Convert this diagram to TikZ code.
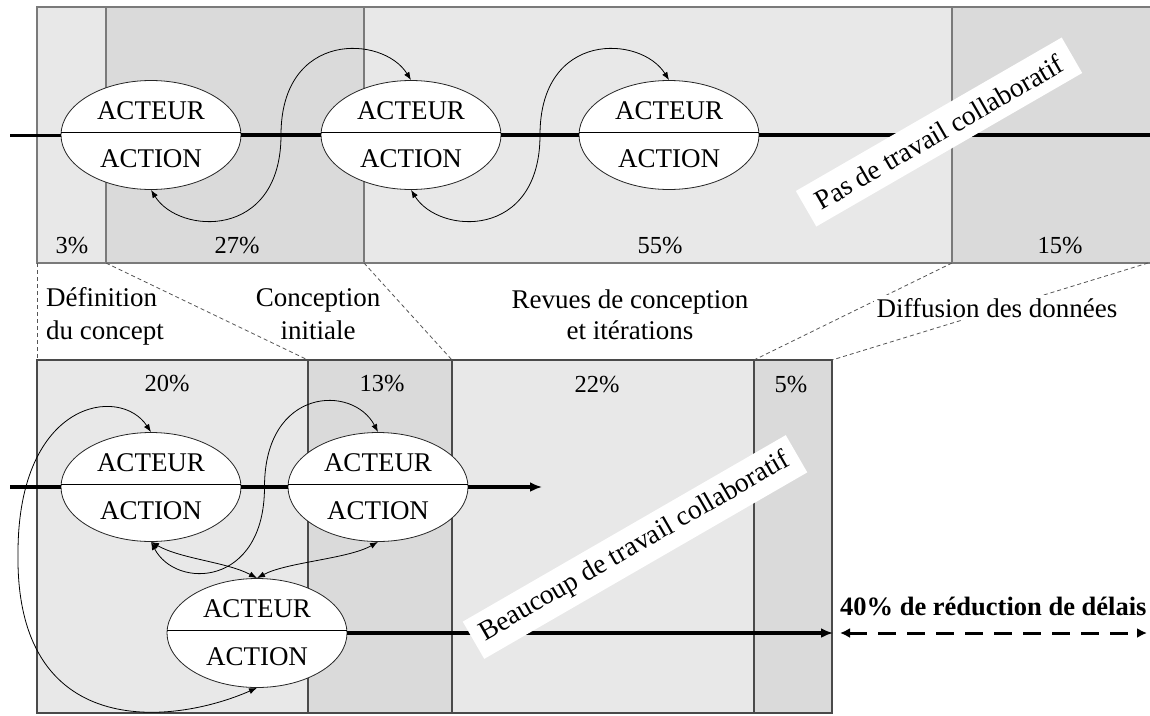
\documentclass[tikz,border=0pt]{standalone}
\usepackage{fontspec}
\setmainfont{Liberation Serif}
\usetikzlibrary{shapes.geometric,arrows.meta,calc}
\definecolor{paleband}{HTML}{E8E8E8}
\definecolor{darkband}{HTML}{DADADA}
\definecolor{toprule}{HTML}{7A7A7A}
\definecolor{botrule}{HTML}{4A4A4A}
\definecolor{guide}{HTML}{555555}

\begin{document}
\begin{tikzpicture}[x=1pt,y=-1pt,
  act/.style={ellipse, draw=black!85, line width=0.8pt, fill=white,
    minimum width=180pt, minimum height=109pt, inner sep=0pt},
  word/.style={font=\fontsize{27}{30}\selectfont, inner sep=0pt, anchor=base},
  pct/.style={font=\fontsize{24.5}{28}\selectfont, inner sep=0pt, anchor=base},
  phase/.style={font=\fontsize{27}{33}\selectfont, inner sep=0pt},
  flow/.style={line width=3.5pt, black},
  flowtip/.style={-{Latex[length=12pt,width=10pt]}},
  loop/.style={line width=0.8pt, black,
    {Latex[length=8pt,width=6pt]}-{Latex[length=8pt,width=6pt]}},
  guideline/.style={guide, line width=0.8pt, dash pattern=on 4pt off 3pt},
  tag/.style={fill=white, rotate=30, font=\fontsize{27.5}{30}\selectfont, inner sep=0pt},
]
\useasboundingbox (0,0) rectangle (1150,715);
\fill[white] (0,0) rectangle (1150,715);
\clip (0,0) rectangle (1150,715);

% ---- upper timeline: phases without collaboration
\fill[paleband] (37,7) rectangle (106,263);
\fill[darkband] (106,7) rectangle (364,263);
\fill[paleband] (364,7) rectangle (952,263);
\fill[darkband] (952,7) rectangle (1160,263);
\draw[toprule, line width=1.4pt] (37,7) rectangle (1160,263);
\foreach \x in {106,364,952} \draw[toprule, line width=1.4pt] (\x,7) -- (\x,263);

% ---- lower timeline: phases with collaboration
\fill[paleband] (37,360) rectangle (308,713);
\fill[darkband] (308,360) rectangle (452,713);
\fill[paleband] (452,360) rectangle (754,713);
\fill[darkband] (754,360) rectangle (832,713);
\draw[botrule, line width=1.2pt] (37,360) rectangle (832,713);
\foreach \x in {308,452,754} \draw[botrule, line width=1.2pt] (\x,360) -- (\x,713);

% ---- guides joining the phase limits of both timelines
\coordinate (t0) at (37,263);   \coordinate (b0) at (37,360);
\coordinate (t1) at (106,263);  \coordinate (b1) at (308,360);
\coordinate (t2) at (364,263);  \coordinate (b2) at (452,360);
\coordinate (t3) at (952,263);  \coordinate (b3) at (754,360);
\coordinate (t4) at (1148,263); \coordinate (b4) at (832,360);
\draw[guideline] (t0) -- (b0);
\draw[guideline] (t1) -- (b1);
\draw[guideline] (t2) -- (b2);
\draw[guideline] (t3) -- (b3);
\draw[guideline] (t4) -- (b4);

% ---- phase names
\node[phase, anchor=base west] (p1a) at (46,306.5) {Définition};
\node[phase, anchor=base west] (p1b) at (46,339.5) {du concept};
\node[phase, anchor=base] (p2a) at (318,306.5) {Conception};
\node[phase, anchor=base] (p2b) at (318,339.5) {initiale};
\node[phase, anchor=base] (p3a) at (630,308.5) {Revues de conception};
\node[phase, anchor=base] (p3b) at (630,339.5) {et itérations};
\node[phase, anchor=base, fill=white, inner sep=3pt] (p4) at (997,317) {Diffusion des données};

% ---- shares of time
\node[pct] (u1) at (72,253) {3\%};
\node[pct] (u2) at (237,253) {27\%};
\node[pct] (u3) at (660,253) {55\%};
\node[pct] (u4) at (1060,253) {15\%};
\node[pct] (l1) at (167,391) {20\%};
\node[pct] (l2) at (382,391) {13\%};
\node[pct] (l3) at (597,392) {22\%};
\node[pct] (l4) at (791,392) {5\%};

% ---- actor / action ellipses
\foreach \n/\cx/\cy in {e1/151/135, e2/411/135, e3/669/135,
                        e4/151/487, e5/378/487, e6/257/633} {
  \node[act] (\n) at (\cx,\cy) {};
  \draw[black, line width=1pt] ($(\n.west)+(0,-3)$) -- ($(\n.east)+(0,-3)$);
  \node[word] (\n a) at ($(\n.center)+(0,-16)$) {ACTEUR};
  \node[word] (\n b) at ($(\n.center)+(0,32)$) {ACTION};
}

% ---- sequential flow, upper timeline
\coordinate (s0) at (10,135);
\coordinate (s9) at (1160,135);
\draw[line width=3pt] (s0) -- (e1.west);
\draw[flow] (e1.east) -- (e2.west);
\draw[flow] (e2.east) -- (e3.west);
\draw[flow] (e3.east) -- (s9);

% ---- flow, lower timeline
\coordinate (r0) at (10,487);
\coordinate (r5) at (542,487);
\coordinate (r6) at (833,633);
\draw[flow] (r0) -- (e4.west);
\draw[flow] (e4.east) -- (e5.west);
\draw[flow, flowtip] (e5.east) -- (r5);
\draw[flow, flowtip] (e6.east) -- (r6);

% ---- exchanges between actors, upper timeline
\draw[loop] (e1.south) .. controls +(28,45) and +(0,105) .. ($(e1.south)!0.5!(e2.north)$)
            .. controls +(0,-105) and +(-28,-45) .. (e2.north);
\draw[loop] (e2.south) .. controls +(28,45) and +(0,105) .. ($(e2.south)!0.5!(e3.north)$)
            .. controls +(0,-105) and +(-28,-45) .. (e3.north);

% ---- exchanges between actors, lower timeline
\coordinate (wl) at (18,553);
\draw[loop] (e4.north) .. controls +(-31,-47) and +(0,-153) .. (wl)
            .. controls +(-3,187) and +(-87,38) .. (e6.south);
\draw[loop] (e4.south) .. controls +(25,48) and +(0,100) .. ($(e4.south)!0.5!(e5.north)$)
            .. controls +(0,-100) and +(-25,-48) .. (e5.north);
\draw[loop] (e4.south) .. controls +(30,17) and +(-30,-16) .. (e6.north);
\draw[loop] (e5.south) .. controls +(-30,17) and +(30,-16) .. (e6.north);

% ---- slanted captions
\node[tag, minimum width=307pt, minimum height=41pt] (capt1) at (939,132) {Pas de travail collaboratif};
\node[tag, minimum width=373pt, minimum height=43pt] (capt2) at (635,547) {Beaucoup de travail collaboratif};

% ---- time saved
\coordinate (g0) at (840,633);
\coordinate (g1) at (1147,633);
\draw[line width=3pt, dash pattern=on 18pt off 11pt,
      {Latex[length=10pt,width=10pt]}-{Latex[length=10pt,width=10pt]}] (g0) -- (g1);
\node[anchor=west, inner sep=0pt, font=\bfseries\fontsize{26.5}{30}\selectfont] (gain) at (840,606)
  {40\% de réduction de délais};
\end{tikzpicture}
\end{document}
